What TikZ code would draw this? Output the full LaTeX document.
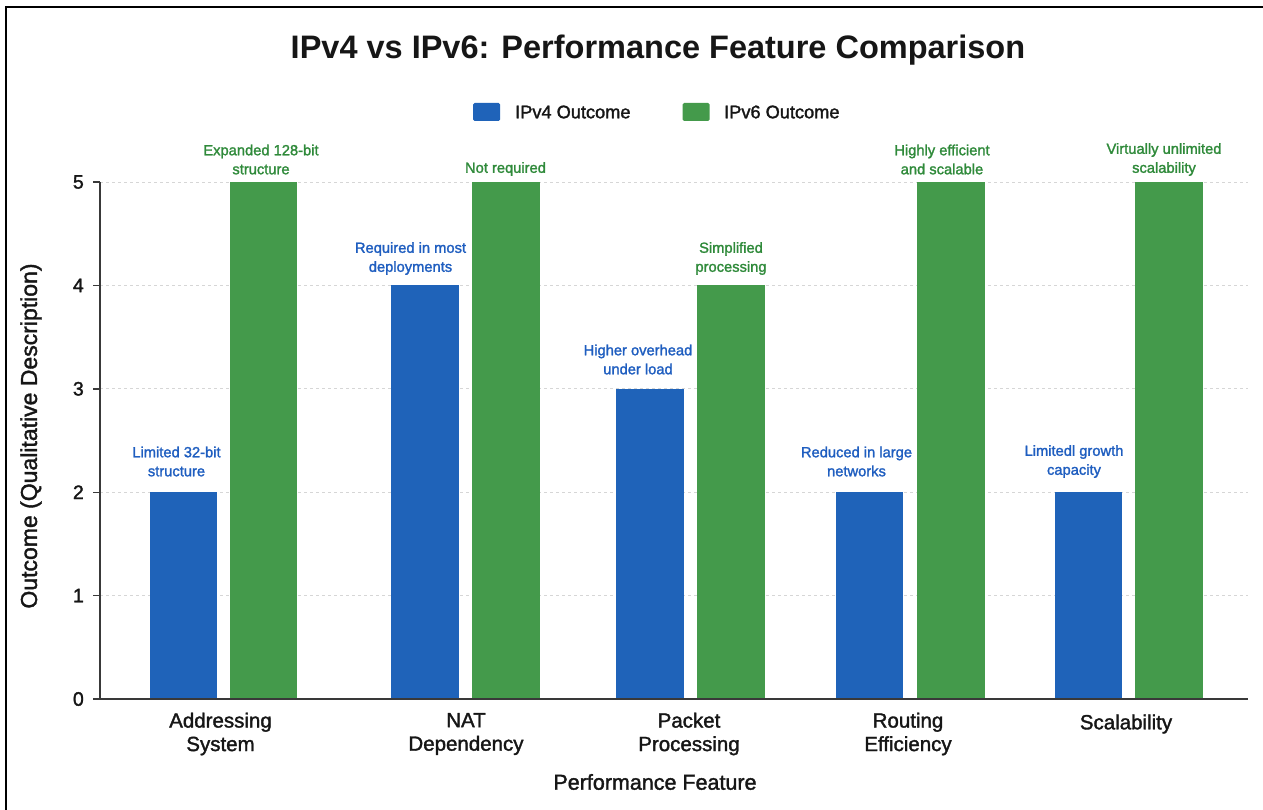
\documentclass[tikz,border=0pt]{standalone}
\usepackage{fontspec}
\setmainfont{Liberation Sans}[FakeBold=1.6]
\newfontfamily\plainsans{Liberation Sans}
\definecolor{barblue}{HTML}{1F63B9}
\definecolor{bargreen}{HTML}{449A4B}
\definecolor{txtblue}{HTML}{1F5EC0}
\definecolor{txtgreen}{HTML}{2F8A3A}
\definecolor{gridgray}{HTML}{D6D6D6}
\definecolor{ink}{HTML}{161616}
\begin{document}
\begin{tikzpicture}[x=1pt,y=-1pt,
  bluebar/.style={fill=barblue},
  greenbar/.style={fill=bargreen},
  vlab/.style={align=center,font=\fontsize{14.7}{19}\selectfont,inner sep=0pt},
  bluelab/.style={vlab,text=txtblue},
  greenlab/.style={vlab,text=txtgreen},
  catlab/.style={align=center,font=\fontsize{20.5}{23.5}\selectfont,text=ink,inner sep=0pt},
  ticklab/.style={anchor=east,font=\fontsize{19.5}{20}\selectfont,text=ink,inner sep=0pt},
  leglab/.style={anchor=west,font=\fontsize{18.2}{20}\selectfont,text=ink,inner sep=0pt},
  legbox/.style={rounded corners=1.5pt,minimum width=27pt,minimum height=18pt,inner sep=0pt},
  grid line/.style={gridgray,dashed,line width=0.8pt},
  axisline/.style={ink!85,line width=1.4pt}]
\useasboundingbox (0,0) rectangle (1263,810);
\fill[white] (0,0) rectangle (1263,810);
% frame (clipped at right and bottom)
\draw[black,line width=2pt] (6,812) -- (6,7) -- (1265,7);
% title
\node[font=\plainsans\bfseries\fontsize{32.5}{36}\selectfont,text=ink] (title) at (658,50) {IPv4 vs IPv6: Performance Feature Comparison};
% legend
\node[legbox,fill=barblue] (lg4) at (486.5,112) {};
\node[leglab] (lt4) at (515,112) {IPv4 Outcome};
\node[legbox,fill=bargreen] (lg6) at (696,112) {};
\node[leglab] (lt6) at (724,112) {IPv6 Outcome};
% grid
\foreach \v in {1,2,3,4,5}{
  \draw[grid line] (100,{699-103.4*\v}) -- (1248,{699-103.4*\v});
}
% bars
\fill[bluebar] (150,{699-103.4*2}) rectangle (217,699);
\fill[greenbar] (230,{699-103.4*5}) rectangle (297,699);
\fill[bluebar] (391,{699-103.4*4}) rectangle (459,699);
\fill[greenbar] (472,{699-103.4*5}) rectangle (540,699);
\fill[bluebar] (616,{699-103.4*3}) rectangle (684,699);
\fill[greenbar] (697,{699-103.4*4}) rectangle (765,699);
\fill[bluebar] (836,{699-103.4*2}) rectangle (903,699);
\fill[greenbar] (917,{699-103.4*5}) rectangle (985,699);
\fill[bluebar] (1055,{699-103.4*2}) rectangle (1122,699);
\fill[greenbar] (1135,{699-103.4*5}) rectangle (1203,699);
% axes
\draw[axisline] (100,182) -- (100,699);
\draw[axisline] (93,699) -- (1248,699);
\foreach \v in {0,1,2,3,4,5}{
  \draw[axisline] (93,{699-103.4*\v}) -- (100,{699-103.4*\v});
  \node[ticklab] at (84,{699-103.4*\v}) {\v};
}
% value labels
\node[bluelab] (l1) at (176.5,461.5) {Limited 32-bit\\structure};
\node[greenlab] (l2) at (261,159.5) {Expanded 128-bit\\structure};
\node[bluelab] (l3) at (410.5,258.5) {Required in most\\deployments};
\node[greenlab] (l4) at (505.5,169) {Not required};
\node[bluelab] (l5) at (638,359.5) {Higher overhead\\under load};
\node[greenlab] (l6) at (731,258.5) {Simplified\\processing};
\node[bluelab] (l7) at (856.5,461.5) {Reduced in large\\networks};
\node[greenlab] (l8) at (942,159.5) {Highly efficient\\and scalable};
\node[bluelab] (l9) at (1074,461.5) {Limitedl growth\\capacity};
\node[greenlab] (l10) at (1164,159.5) {Virtually unlimited\\scalability};
% categories
\node[catlab] (c1) at (220.5,734) {Addressing\\System};
\node[catlab] (c2) at (466,734) {NAT\\Dependency};
\node[catlab] (c3) at (689,734) {Packet\\Processing};
\node[catlab] (c4) at (908,734) {Routing\\Efficiency};
\node[catlab] (c5) at (1126,724) {Scalability};
% axis titles
\node[font=\fontsize{21.5}{24}\selectfont,text=ink] (xt) at (655,782) {Performance Feature};
\node[font=\fontsize{23}{26}\selectfont,text=ink,rotate=90] (yt) at (31,436) {Outcome (Qualitative Description)};
\end{tikzpicture}
\end{document}
